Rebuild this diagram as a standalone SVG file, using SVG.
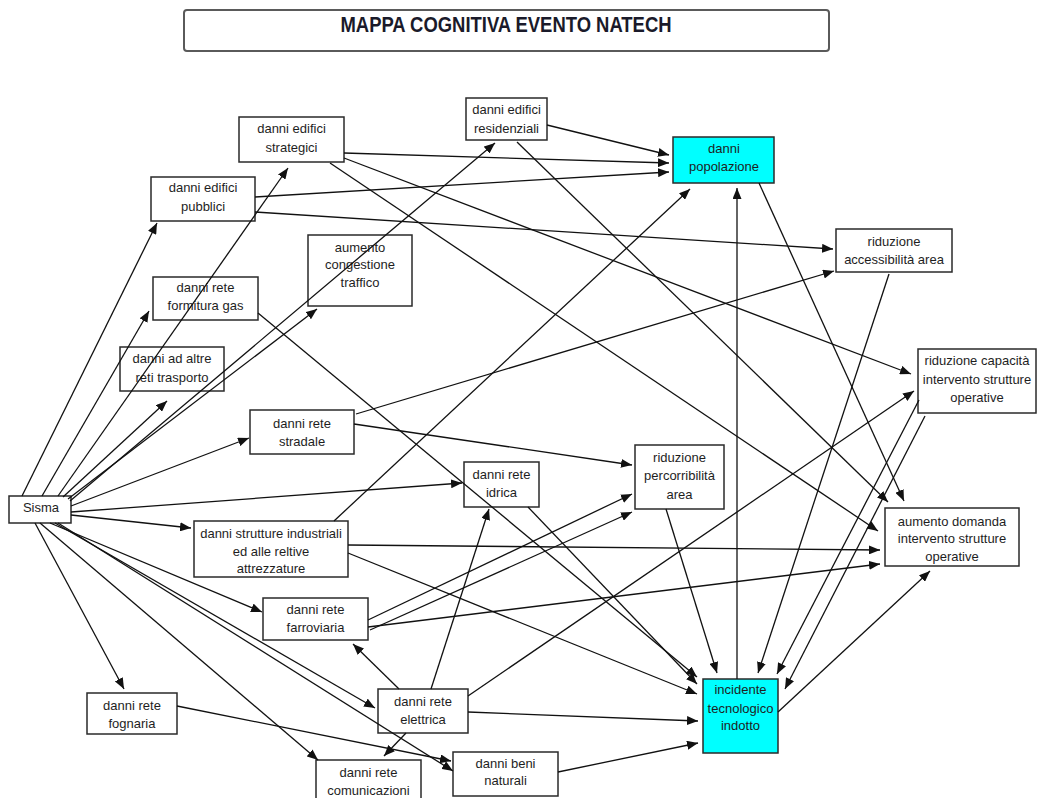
<svg xmlns="http://www.w3.org/2000/svg" width="1039" height="798" viewBox="0 0 1039 798">
  <style>
    .box { fill: #ffffff; stroke: #2a2a2a; stroke-width: 1.5; }
    .hot { fill: #00ffff; stroke: #2a2a2a; stroke-width: 1.5; }
    .lbl { font-family: "Liberation Sans", Arial, sans-serif; font-size: 13px; fill: #1e1e1e; text-anchor: middle; }
    .edge { stroke: #111111; stroke-width: 1.3; fill: none; marker-end: url(#arrow); }
  </style>
  <defs>
    <marker id="arrow" markerUnits="userSpaceOnUse" markerWidth="11" markerHeight="9" refX="11" refY="4.5" orient="auto">
      <path d="M0,0 L11,4.5 L0,9 z" fill="#111111"/>
    </marker>
  </defs>

  <rect width="1039" height="798" fill="#ffffff"/>

  <!-- title -->
  <g id="title">
    <rect x="184" y="10" width="645" height="41" rx="3" fill="#ffffff" stroke="#5a5a5a" stroke-width="2"/>
    <text x="506" y="32" font-family="'Liberation Sans', Arial, sans-serif" font-size="22" font-weight="bold" fill="#1a1a2a" text-anchor="middle" textLength="331" lengthAdjust="spacingAndGlyphs">MAPPA COGNITIVA EVENTO NATECH</text>
  </g>

  <!-- nodes -->
  <g id="n-strategici">
    <rect class="box" x="239" y="117" width="105" height="45"/>
    <text class="lbl" x="291.5" y="132.5">danni edifici</text>
    <text class="lbl" x="291.5" y="151.5">strategici</text>
  </g>
  <g id="n-pubblici">
    <rect class="box" x="151" y="177" width="104" height="44"/>
    <text class="lbl" x="203" y="191.5">danni edifici</text>
    <text class="lbl" x="203" y="210.5">pubblici</text>
  </g>
  <g id="n-residenziali">
    <rect class="box" x="466" y="98" width="81" height="42"/>
    <text class="lbl" x="506.5" y="113.5">danni edifici</text>
    <text class="lbl" x="506.5" y="132.5">residenziali</text>
  </g>
  <g id="n-popolazione">
    <rect class="hot" x="673" y="137" width="101" height="46"/>
    <text class="lbl" x="724" y="152.5">danni</text>
    <text class="lbl" x="724" y="170.5">popolazione</text>
  </g>
  <g id="n-accessibilita">
    <rect class="box" x="836" y="229" width="116" height="43"/>
    <text class="lbl" x="894" y="245.5">riduzione</text>
    <text class="lbl" x="894" y="263.5">accessibilità area</text>
  </g>
  <g id="n-congestione">
    <rect class="box" x="308" y="235" width="104" height="71"/>
    <text class="lbl" x="360" y="251.5">aumento</text>
    <text class="lbl" x="360" y="268.5">congestione</text>
    <text class="lbl" x="360" y="286.5">traffico</text>
  </g>
  <g id="n-gas">
    <rect class="box" x="153" y="277" width="105" height="43"/>
    <text class="lbl" x="205.5" y="291.5">danni rete</text>
    <text class="lbl" x="205.5" y="309.5">formitura gas</text>
  </g>
  <g id="n-trasporto">
    <rect class="box" x="120" y="347" width="104" height="44"/>
    <text class="lbl" x="172" y="362.5">danni ad altre</text>
    <text class="lbl" x="172" y="381.5">reti trasporto</text>
  </g>
  <g id="n-stradale">
    <rect class="box" x="250" y="410" width="104" height="44"/>
    <text class="lbl" x="302" y="427.5">danni rete</text>
    <text class="lbl" x="302" y="445.5">stradale</text>
  </g>
  <g id="n-sisma">
    <rect class="box" x="9" y="496" width="62" height="27"/>
    <text class="lbl" x="41" y="512">Sisma</text>
  </g>
  <g id="n-idrica">
    <rect class="box" x="464" y="462" width="75" height="45"/>
    <text class="lbl" x="501.5" y="478.5">danni rete</text>
    <text class="lbl" x="501.5" y="496.5">idrica</text>
  </g>
  <g id="n-percorribilita">
    <rect class="box" x="635" y="445" width="89" height="64"/>
    <text class="lbl" x="679.5" y="461.5">riduzione</text>
    <text class="lbl" x="679.5" y="479.5">percorribilità</text>
    <text class="lbl" x="679.5" y="498.5">area</text>
  </g>
  <g id="n-capacita">
    <rect class="box" x="918" y="349" width="118" height="64"/>
    <text class="lbl" x="977" y="364.5">riduzione capacità</text>
    <text class="lbl" x="977" y="383.5">intervento strutture</text>
    <text class="lbl" x="977" y="401.5">operative</text>
  </g>
  <g id="n-domanda">
    <rect class="box" x="885" y="508" width="134" height="58"/>
    <text class="lbl" x="952" y="525.5">aumento domanda</text>
    <text class="lbl" x="952" y="542.5">intervento strutture</text>
    <text class="lbl" x="952" y="560.5">operative</text>
  </g>
  <g id="n-industriali">
    <rect class="box" x="194" y="521" width="154" height="56"/>
    <text class="lbl" x="271" y="537.5">danni strutture industriali</text>
    <text class="lbl" x="271" y="555.5">ed alle reltive</text>
    <text class="lbl" x="271" y="572.5">attrezzature</text>
  </g>
  <g id="n-ferroviaria">
    <rect class="box" x="263" y="598" width="105" height="42"/>
    <text class="lbl" x="315.5" y="613.5">danni rete</text>
    <text class="lbl" x="315.5" y="631.5">farroviaria</text>
  </g>
  <g id="n-fognaria">
    <rect class="box" x="87" y="693" width="90" height="41"/>
    <text class="lbl" x="132" y="709.5">danni rete</text>
    <text class="lbl" x="132" y="727.5">fognaria</text>
  </g>
  <g id="n-elettrica">
    <rect class="box" x="378" y="689" width="90" height="44"/>
    <text class="lbl" x="423" y="705.5">danni rete</text>
    <text class="lbl" x="423" y="723.5">elettrica</text>
  </g>
  <g id="n-beni">
    <rect class="box" x="453" y="752" width="105" height="44"/>
    <text class="lbl" x="505.5" y="767.5">danni beni</text>
    <text class="lbl" x="505.5" y="784.5">naturali</text>
  </g>
  <g id="n-comunicazioni">
    <rect class="box" x="316" y="760" width="105" height="50"/>
    <text class="lbl" x="368.5" y="776.5">danni rete</text>
    <text class="lbl" x="368.5" y="794.5">comunicazioni</text>
  </g>
  <g id="n-incidente">
    <rect class="hot" x="703" y="679" width="75" height="74"/>
    <text class="lbl" x="740.5" y="693.5">incidente</text>
    <text class="lbl" x="740.5" y="712.5">tecnologico</text>
    <text class="lbl" x="740.5" y="729.5">indotto</text>
  </g>

  <!-- connectors -->
  <g id="connectors">
    <!-- from Sisma -->
    <line class="edge" x1="22" y1="496" x2="157" y2="223"/>
    <line class="edge" x1="42" y1="496" x2="149" y2="311"/>
    <line class="edge" x1="58" y1="496" x2="288" y2="168"/>
    <line class="edge" x1="63" y1="497" x2="167" y2="401"/>
    <line class="edge" x1="68" y1="499" x2="317" y2="309"/>
    <line class="edge" x1="70" y1="501" x2="495" y2="143"/>
    <line class="edge" x1="71" y1="506" x2="249" y2="438"/>
    <line class="edge" x1="71" y1="512" x2="462" y2="483"/>
    <line class="edge" x1="71" y1="515" x2="191" y2="528"/>
    <line class="edge" x1="50" y1="523" x2="262" y2="612"/>
    <line class="edge" x1="55" y1="523" x2="375" y2="708"/>
    <line class="edge" x1="58" y1="523" x2="453" y2="771"/>
    <line class="edge" x1="40" y1="523" x2="318" y2="760"/>
    <line class="edge" x1="35" y1="523" x2="124" y2="689"/>

    <!-- into danni popolazione -->
    <line class="edge" x1="547" y1="125" x2="669" y2="155"/>
    <line class="edge" x1="344" y1="153" x2="669" y2="163"/>
    <line class="edge" x1="255" y1="197" x2="669" y2="172"/>
    <line class="edge" x1="334" y1="521" x2="690" y2="189"/>
    <line class="edge" x1="737" y1="679" x2="737" y2="188"/>

    <!-- into riduzione accessibilita area -->
    <line class="edge" x1="255" y1="212" x2="833" y2="249"/>
    <line class="edge" x1="356" y1="414" x2="834" y2="271"/>

    <!-- into riduzione capacita intervento -->
    <line class="edge" x1="344" y1="158" x2="911" y2="374"/>
    <line class="edge" x1="468" y1="696" x2="914" y2="391"/>

    <!-- into aumento domanda intervento -->
    <line class="edge" x1="330" y1="163" x2="878" y2="531"/>
    <line class="edge" x1="517" y1="142" x2="888" y2="502"/>
    <line class="edge" x1="759" y1="183" x2="904" y2="501"/>
    <line class="edge" x1="348" y1="545" x2="880" y2="550"/>
    <line class="edge" x1="368" y1="627" x2="880" y2="564"/>
    <line class="edge" x1="778" y1="712" x2="930" y2="571"/>

    <!-- into incidente tecnologico indotto -->
    <line class="edge" x1="889" y1="274" x2="758" y2="673"/>
    <line class="edge" x1="919" y1="400" x2="777" y2="674"/>
    <line class="edge" x1="925" y1="416" x2="785" y2="689"/>
    <line class="edge" x1="666" y1="509" x2="717" y2="673"/>
    <line class="edge" x1="258" y1="313" x2="697" y2="677"/>
    <line class="edge" x1="528" y1="507" x2="697" y2="684"/>
    <line class="edge" x1="348" y1="553" x2="697" y2="694"/>
    <line class="edge" x1="468" y1="712" x2="698" y2="721"/>
    <line class="edge" x1="558" y1="772" x2="698" y2="743"/>

    <!-- into riduzione percorribilita area -->
    <line class="edge" x1="354" y1="424" x2="632" y2="465"/>
    <line class="edge" x1="368" y1="620" x2="632" y2="494"/>
    <line class="edge" x1="370" y1="630" x2="632" y2="512"/>

    <!-- from danni rete elettrica -->
    <line class="edge" x1="399" y1="689" x2="353" y2="644"/>
    <line class="edge" x1="431" y1="689" x2="489" y2="509"/>
    <line class="edge" x1="406" y1="733" x2="384" y2="756"/>

    <!-- from danni rete fognaria -->
    <line class="edge" x1="177" y1="706" x2="451" y2="761"/>
  </g>
</svg>
